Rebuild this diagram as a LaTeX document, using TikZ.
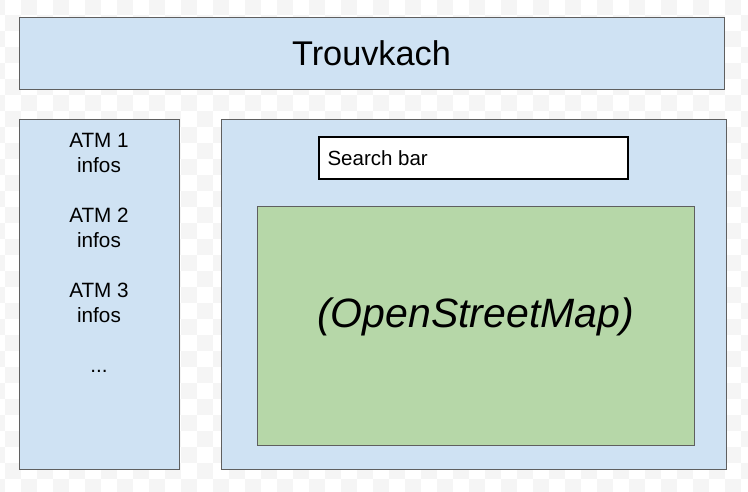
\documentclass[tikz,border=0pt]{standalone}
\usepackage{fontspec}
\setmainfont{Liberation Sans}
\usepackage{tikz}
\usetikzlibrary{positioning, calc}
\usepackage{xcolor}
\definecolor{panelblue}{HTML}{CFE2F3}
\definecolor{mapgreen}{HTML}{B6D7A8}
\definecolor{edgegray}{HTML}{5F5F5F}
\definecolor{checkgray}{HTML}{F5F5F5}
\tikzset{
	panel/.style={draw=edgegray, line width=1pt, fill=panelblue, inner sep=0pt},
	searchbox/.style={draw=black, line width=1.3pt, fill=white, inner sep=0pt, minimum width=309pt, minimum height=42pt},
	mapbox/.style={draw=edgegray, line width=1pt, fill=mapgreen, inner sep=0pt, minimum width=437pt, minimum height=239pt},
	atmtext/.style={anchor=base, inner sep=0pt, font=\fontsize{20.7}{24}\selectfont}
}

\begin{document}
\begin{tikzpicture}[x=1pt, y=-1pt]
			\useasboundingbox (0,0) rectangle (748,491);
			% transparency checker
			\foreach \i in {-1,...,46}{
				\pgfmathtruncatemacro{\off}{mod(\i+1,2)}
				\foreach \j in {0,2,...,30}{
					\fill[checkgray] (5+16*\i, -1.3+16*\j+16*\off) rectangle ++(16,16);
				}
			}
			\node[panel, minimum width=705pt, minimum height=72pt, font=\fontsize{34.3}{40}\selectfont] (title) at (371.5,53) {Trouvkach};
			\node[panel, minimum width=160pt, minimum height=350pt] (atmpanel) at (99,294) {};
			\node[panel, minimum width=505pt, minimum height=350pt] (mappanel) at (473.5,294) {};
			\node[searchbox] (searchbar) at (473.5,158) {};
			\node[anchor=west, inner sep=0pt, font=\fontsize{20.5}{24}\selectfont] (searchtext) at ([xshift=9pt]searchbar.west) {Search bar};
			\node[mapbox] (osm) at (475.5,325.5) {};
			\node[inner sep=0pt, font=\fontsize{41}{48}\selectfont\itshape] (osmlabel) at ([yshift=9pt]osm.center) {(OpenStreetMap)};
			\foreach \i in {1,2,3}{
				\node[atmtext] (atm\i) at (99,147.7+75*\i-75) {ATM \i};
				\node[atmtext] (infos\i) at (99,172.7+75*\i-75) {infos};
			}
			\node[atmtext] (more) at (99,372.7) {...};
		\end{tikzpicture}
\end{document}
